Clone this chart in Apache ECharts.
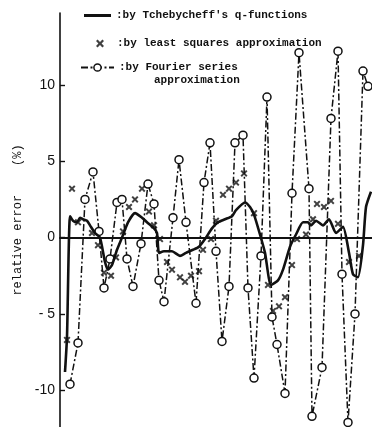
<!DOCTYPE html>
<html>
<head>
<meta charset="utf-8">
<script src="https://cdn.jsdelivr.net/npm/echarts@6/dist/echarts.min.js"></script>
<style>
  html, body { margin: 0; padding: 0; background: #fff; }
  #chart { width: 372px; height: 427px; }
</style>
</head>
<body>
<div id="chart"></div>
<script>
// positions along the (unlabelled) horizontal axis
const fourierX = [10, 18, 25, 33, 39, 44, 50, 57, 62, 67, 73, 81, 88, 94, 99, 104, 113, 119, 126, 136,
    144, 150, 156, 162, 169, 175, 183, 188, 194, 201, 207, 212, 217, 225, 232, 239, 249, 252, 262, 271,
    278, 282, 288, 295, 303, 308]
const fourierValues = [-9.6, -6.9, 2.5, 4.3, 0.4, -3.3, -1.4, 2.3, 2.5, -1.4, -3.2, -0.4, 3.5, 2.2, -2.8, -4.2, 1.3, 5.1, 1.0, -4.3,
    3.6, 6.2, -0.9, -6.8, -3.2, 6.2, 6.7, -3.3, -9.2, -1.2, 9.2, -5.2, -7.0, -10.2, 2.9, 12.1, 3.2, -11.7, -8.5, 7.8,
    12.2, -2.4, -12.1, -5.0, 10.9, 9.9]

const tchebyX = [5, 7, 10, 13, 17, 20, 23, 27, 30, 35, 40, 45, 48, 52, 57, 62, 68, 75, 82, 87,
    94, 97, 99, 104, 112, 120, 126, 133, 139, 145, 152, 158, 165, 172, 176, 185, 190, 194, 200, 205,
    211, 218, 223, 230, 236, 243, 248, 251, 256, 263, 269, 276, 283, 289, 293, 298, 303, 306, 311]
const tchebyValues = [-8.8, -6.5, 1.4, 1.1, 1.0, 1.3, 1.2, 1.1, 0.8, 0.3, 0, -1.6, -2.1, -1.8, -0.8, 0.0, 1.0, 1.6, 1.3, 1.0,
    0.6, 0.3, -1.0, -0.9, -0.9, -1.2, -1.0, -0.8, -0.6, -0.1, 0.6, 1.0, 1.2, 1.4, 1.8, 2.3, 2.0, 1.5, 0.2, -1.0,
    -3.1, -2.8, -2.1, -0.6, 0.2, 1.0, 1.0, 0.8, 1.1, 0.8, 1.2, 0.3, 0.7, -1.0, -2.4, -2.6, -0.5, 2.0, 3.0]

const lsqX = [7, 12, 18, 32, 38, 44, 51, 56, 63, 69, 75, 82, 89, 94, 100, 107, 112, 120, 125, 131,
    139, 143, 151, 156, 163, 169, 176, 184, 194, 208, 213, 219, 225, 232, 237, 246, 253, 257, 264, 271,
    278, 289, 299]
const lsqValues = [-6.7, 3.2, 1.0, 0.3, -0.5, -2.3, -2.5, -1.3, 0.4, 2.0, 2.5, 3.2, 1.7, 0.8, -0.1, -1.6, -2.1, -2.6, -2.9, -2.5,
    -2.2, -0.8, -0.1, 1.1, 2.8, 3.2, 3.6, 4.2, 1.6, -3.1, -4.8, -4.5, -3.9, -1.8, -0.1, 0.2, 1.2, 2.2, 2.0, 2.4,
    0.9, -1.6, -1.2]

const yTicks = [-10, -5, 0, 5, 10]

const seriesNames = [
    ":by Tchebycheff's q-functions",
    ':by least squares approximation',
    ':by Fourier series',
]

const zip = (xs, ys) => xs.map((x, i) => [x, ys[i]])

const INK = '#111'
const CROSS = 'path://M0,2L2,0L5,3L8,0L10,2L7,5L10,8L8,10L5,7L2,10L0,8L3,5Z'
const legendText = {
    fontFamily: 'Liberation Mono',
    fontWeight: 'bold',
    fontSize: 11,
    color: INK,
}

const chart = echarts.init(document.getElementById('chart'))

chart.setOption({
    animation: false,
    backgroundColor: '#fff',
    grid: { left: 60, right: 0, top: 13, bottom: 0 },
    legend: [
        {
            left: 84, top: 10, padding: 0, itemWidth: 27, itemHeight: 3,
            textStyle: legendText,
            itemStyle: { color: INK },
            data: [{ name: seriesNames[0], icon: 'rect' }],
        },
        {
            left: 96, top: 38, padding: 0, itemWidth: 8, itemHeight: 8,
            textStyle: { ...legendText, padding: [0, 0, 0, 8] },
            data: [{ name: seriesNames[1], icon: CROSS }],
        },
        {
            left: 80, top: 62, padding: 0, itemWidth: 33, itemHeight: 9,
            textStyle: legendText,
            itemStyle: { color: '#fff', borderColor: INK, borderWidth: 1.5 },
            data: [seriesNames[2]],
        },
    ],
    graphic: [
        {
            type: 'text',
            left: 154,
            top: 75,
            style: { text: 'approximation', font: 'bold 11px "Liberation Mono"', fill: INK },
        },
    ],
    xAxis: {
        type: 'value',
        min: 0,
        max: 312,
        axisLine: { onZero: true, lineStyle: { color: INK, width: 2 } },
        axisTick: { show: false },
        axisLabel: { show: false },
        splitLine: { show: false },
    },
    yAxis: {
        type: 'value',
        min: -12.4,
        max: 14.7,
        name: 'relative error    (%)',
        nameLocation: 'middle',
        nameGap: 34,
        nameTextStyle: { fontFamily: 'Liberation Mono', fontSize: 12, color: INK },
        axisLine: { show: true, lineStyle: { color: INK, width: 1.6 } },
        axisTick: {
            show: true,
            inside: true,
            length: 5,
            customValues: yTicks,
            lineStyle: { color: INK, width: 1.4 },
        },
        axisLabel: {
            customValues: yTicks,
            margin: 5,
            color: INK,
            fontFamily: 'Liberation Sans',
            fontSize: 14,
            formatter: v => (v === -5 ? '- 5' : String(v)),
        },
        splitLine: { show: false },
    },
    series: [
        {
            name: seriesNames[2],
            type: 'line',
            data: zip(fourierX, fourierValues),
            symbol: 'circle',
            symbolSize: 8,
            lineStyle: { color: INK, width: 1.5, type: [7, 2.5, 2, 2.5] },
            itemStyle: { color: '#fff', borderColor: INK, borderWidth: 1.5 },
            z: 2,
        },
        {
            name: seriesNames[0],
            type: 'line',
            data: zip(tchebyX, tchebyValues),
            symbol: 'none',
            smooth: 0.2,
            lineStyle: { color: INK, width: 2.6 },
            itemStyle: { color: INK },
            z: 3,
        },
        {
            name: seriesNames[1],
            type: 'scatter',
            data: zip(lsqX, lsqValues),
            symbol: CROSS,
            symbolSize: 7,
            itemStyle: { color: INK },
            z: 4,
        },
    ],
})
</script>
</body>
</html>
